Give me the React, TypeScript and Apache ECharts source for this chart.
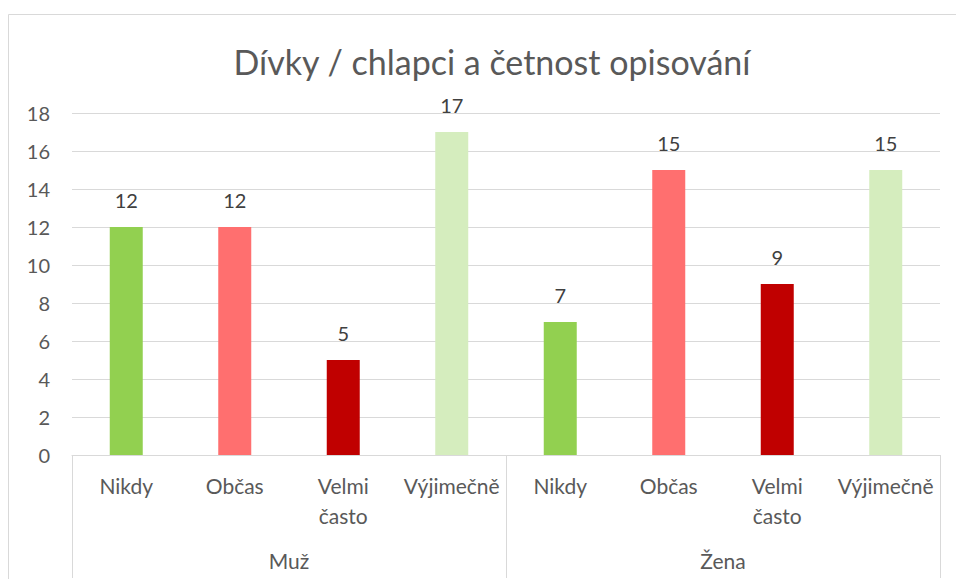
import React, { useEffect, useRef } from "react";
import * as echarts from "echarts";

const titleText = "Dívky / chlapci a četnost opisování";
const subCategories = ["Nikdy", "Občas", "Velmi\nčasto", "Výjimečně", "Nikdy", "Občas", "Velmi\nčasto", "Výjimečně"];
const groups = ["Muž", "Žena"];
const values = [12, 12, 5, 17, 7, 15, 9, 15];
const barColors = ["#92D050", "#FF6F6F", "#C00000", "#D5EDBE", "#92D050", "#FF6F6F", "#C00000", "#D5EDBE"];
const yTicks = { min: 0, max: 18, interval: 2 };

const FONT = "Lato, 'Open Sans', sans-serif";

export default function App() {
  const ref = useRef<HTMLDivElement>(null);
  useEffect(() => {
    if (!ref.current) return;
    const chart = echarts.init(ref.current, undefined, { renderer: "svg" });
    chart.setOption({
      animation: false,
      textStyle: { fontFamily: FONT },
      graphic: [
        {
          type: "rect",
          shape: { x: 8.5, y: 14.5, width: 1000, height: 700 },
          style: { fill: "none", stroke: "#D9D9D9", lineWidth: 1 },
          silent: true,
          z: -1,
        },
        {
          type: "text",
          x: 492,
          y: 61,
          style: {
            text: titleText,
            fill: "#595959",
            font: `34px ${FONT}`,
            textAlign: "center",
            textVerticalAlign: "middle",
          },
        },
      ],
      grid: { left: 72, right: 16, top: 113, bottom: 124, containLabel: false },
      xAxis: [
        {
          type: "category",
          data: subCategories,
          position: "bottom",
          axisLine: { show: true, lineStyle: { color: "#D9D9D9", width: 1 } },
          axisTick: { show: false },
          axisLabel: {
            interval: 0,
            color: "#595959",
            fontSize: 21,
            fontFamily: FONT,
            margin: 15,
            lineHeight: 30,
          },
        },
        {
          type: "category",
          data: groups,
          position: "bottom",
          axisLine: { show: false },
          axisTick: { show: true, length: 123, interval: 0, lineStyle: { color: "#D9D9D9", width: 1 } },
          axisLabel: {
            interval: 0,
            color: "#595959",
            fontSize: 21,
            fontFamily: FONT,
            margin: 95,
          },
        },
      ],
      yAxis: {
        type: "value",
        min: yTicks.min,
        max: yTicks.max,
        interval: yTicks.interval,
        axisLine: { show: false },
        axisTick: { show: false },
        axisLabel: { color: "#595959", fontSize: 20, fontFamily: FONT, margin: 22 },
        splitLine: { lineStyle: { color: "#D9D9D9", width: 1 } },
      },
      series: [
        {
          type: "bar",
          xAxisIndex: 0,
          barWidth: 33,
          data: values.map((v, i) => ({ value: v, itemStyle: { color: barColors[i] } })),
          label: {
            show: true,
            position: "top",
            distance: 17,
            color: "#404040",
            fontSize: 20,
            fontFamily: FONT,
          },
        },
      ],
    });
    return () => chart.dispose();
  }, []);
  return (
    <div
      ref={ref}
      style={{ position: "absolute", left: 0, top: 0, width: 956, height: 579, background: "#fff" }}
    />
  );
}
